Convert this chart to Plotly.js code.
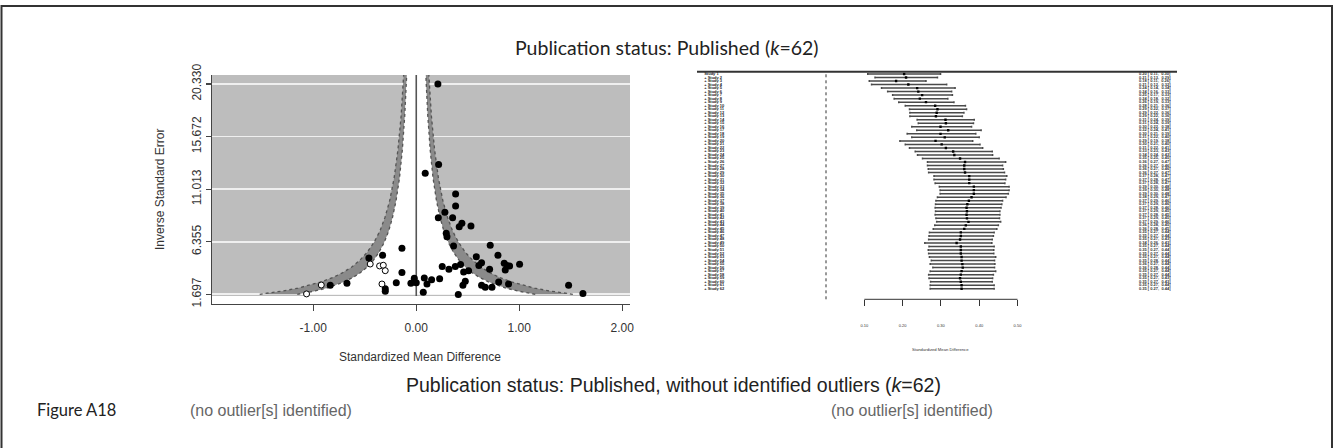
<!DOCTYPE html>
<html>
<head>
<meta charset="utf-8">
<script src="https://cdn.plot.ly/plotly-3.0.1.min.js"></script>
<style>
html,body{margin:0;padding:0;background:#fff;}
#chart{width:1338px;height:448px;}
</style>
</head>
<body>
<div id="chart"></div>
<script>
// ---------- Funnel plot data ----------
const studyEffect = [0.21, 0.217, 0.087, 0.382, 0.382, 0.278, 0.353, 0.214, 0.443, 0.417,
  0.531, 0.291, 0.298, 0.362, 0.718, -0.139, 0.583, 0.793, -0.327, -0.46,
  0.634, 0.608, 0.854, 0.88, 0.906, 1.003, 0.864, 0.252, 0.317, 0.379,
  0.43, 0.46, 0.508, 0.712, -0.139, -0.019, 0.078, 0.149, 0.227, 0.476,
  0.8, -0.194, -0.052, 0.0, 0.104, 0.453, 0.634, 0.67, 0.735, 0.896,
  1.479, 0.068, 0.408, 1.618, -0.301, -0.301, -0.673, -0.835];
const studyInvSE = [20.33, 13.19, 12.42, 10.59, 9.52, 8.96, 8.49, 8.49, 7.99, 7.69,
  7.75, 7.1, 6.8, 5.98, 6.04, 5.77, 5.03, 5.15, 5.15, 4.92,
  4.5, 4.24, 4.44, 4.24, 4.21, 4.35, 3.85, 4.15, 3.91, 4.15,
  4.33, 3.68, 3.79, 3.91, 3.62, 3.11, 3.14, 2.99, 3.08, 2.85,
  2.79, 2.73, 2.67, 2.73, 2.61, 2.49, 2.49, 2.32, 2.32, 2.61,
  2.49, 1.87, 1.67, 1.76, 2.2, 1.96, 2.67, 2.49];
const filledEffect = [-0.447, -0.356, -0.32, -0.301, -0.922, -1.065, -0.333];
const filledInvSE  = [4.38, 4.21, 4.27, 3.79, 2.52, 1.73, 2.61];

// funnel contour edges: inverse SE and half-widths
const funnelY = [1.697, 1.85, 2.0, 2.25, 2.5, 2.8, 3.2, 3.6, 4.1, 4.7, 5.4, 6.3, 7.3, 8.5, 10, 12, 14.5, 17.5, 21.2];
const innerHalf = [1.155, 1.059, 0.98, 0.871, 0.784, 0.70, 0.6125, 0.544, 0.478, 0.417, 0.363, 0.311, 0.268, 0.231, 0.196, 0.163, 0.135, 0.112, 0.0925];
const outerHalf = [1.52, 1.395, 1.29, 1.147, 1.032, 0.921, 0.806, 0.717, 0.629, 0.549, 0.478, 0.41, 0.353, 0.304, 0.258, 0.215, 0.178, 0.147, 0.122];

const funnelYTicks = [1.697, 6.355, 11.013, 15.672, 20.330];
const funnelYTickText = ['1.697', '6.355', '11.013', '15.672', '20.330'];
const funnelXTicks = [-1, 0, 1, 2];
const funnelXTickText = ['-1.00', '0.00', '1.00', '2.00'];

// ---------- Cumulative forest plot data ----------
const cumEst = [0.204, 0.209, 0.183, 0.215, 0.238, 0.241, 0.251, 0.245, 0.261, 0.285,
  0.291, 0.289, 0.287, 0.312, 0.313, 0.299, 0.319, 0.299, 0.310, 0.286,
  0.302, 0.313, 0.332, 0.335, 0.350, 0.363, 0.361, 0.361, 0.363, 0.374,
  0.374, 0.374, 0.386, 0.386, 0.386, 0.380, 0.373, 0.369, 0.367, 0.368,
  0.367, 0.368, 0.372, 0.365, 0.361, 0.352, 0.352, 0.350, 0.341, 0.352,
  0.352, 0.352, 0.354, 0.354, 0.356, 0.357, 0.354, 0.352, 0.350, 0.352,
  0.354, 0.354];
const cumLo = [0.109, 0.128, 0.113, 0.119, 0.145, 0.161, 0.174, 0.178, 0.190, 0.207,
  0.218, 0.219, 0.219, 0.238, 0.241, 0.224, 0.237, 0.212, 0.224, 0.193,
  0.207, 0.218, 0.233, 0.239, 0.252, 0.265, 0.265, 0.267, 0.268, 0.282,
  0.282, 0.285, 0.296, 0.298, 0.298, 0.291, 0.287, 0.286, 0.285, 0.286,
  0.285, 0.287, 0.289, 0.284, 0.280, 0.270, 0.269, 0.268, 0.258, 0.269,
  0.267, 0.268, 0.270, 0.275, 0.272, 0.279, 0.272, 0.268, 0.269, 0.273,
  0.272, 0.272];
const cumHi = [0.299, 0.291, 0.261, 0.315, 0.337, 0.328, 0.330, 0.318, 0.334, 0.364,
  0.367, 0.360, 0.356, 0.387, 0.385, 0.380, 0.405, 0.391, 0.400, 0.383,
  0.402, 0.409, 0.434, 0.435, 0.452, 0.469, 0.461, 0.463, 0.466, 0.472,
  0.469, 0.467, 0.478, 0.478, 0.476, 0.470, 0.461, 0.459, 0.457, 0.454,
  0.454, 0.453, 0.456, 0.450, 0.446, 0.439, 0.437, 0.434, 0.433, 0.439,
  0.438, 0.438, 0.443, 0.440, 0.441, 0.440, 0.443, 0.437, 0.435, 0.434,
  0.439, 0.439];
const forestXTicks = [0.1, 0.2, 0.3, 0.4, 0.5];
const forestXTickText = ['0.10', '0.20', '0.30', '0.40', '0.50'];

// ---------- build traces ----------
const n = funnelY.length;
const whiteX = [], whiteY = [];
for (let i = n - 1; i >= 0; i--) { whiteX.push(-innerHalf[i]); whiteY.push(funnelY[i]); }
for (let i = 0; i < n; i++) { whiteX.push(innerHalf[i]); whiteY.push(funnelY[i]); }

function band(sign) {
  const bx = [], by = [];
  for (let i = 0; i < n; i++) { bx.push(sign * outerHalf[i]); by.push(funnelY[i]); }
  for (let i = n - 1; i >= 0; i--) { bx.push(sign * innerHalf[i]); by.push(funnelY[i]); }
  return {x: bx, y: by};
}
const lb = band(-1), rb = band(1);

const traces = [];
traces.push({type:'scatter', x: whiteX, y: whiteY, fill:'toself', fillcolor:'#ffffff',
  line:{width:0, color:'rgba(0,0,0,0)'}, mode:'lines', hoverinfo:'skip', showlegend:false});
traces.push({type:'scatter', x: lb.x, y: lb.y, fill:'toself', fillcolor:'#8a8a8a',
  line:{width:0, color:'rgba(0,0,0,0)'}, mode:'lines', hoverinfo:'skip', showlegend:false});
traces.push({type:'scatter', x: rb.x, y: rb.y, fill:'toself', fillcolor:'#8a8a8a',
  line:{width:0, color:'rgba(0,0,0,0)'}, mode:'lines', hoverinfo:'skip', showlegend:false});
[innerHalf, outerHalf].forEach(arr => {
  [-1, 1].forEach(s => {
    traces.push({type:'scatter', mode:'lines', x: arr.map(v => s * v), y: funnelY,
      line:{color:'#555', width:1.3, dash:'dot'}, hoverinfo:'skip', showlegend:false});
  });
});
// vertical reference line at 0
traces.push({type:'scatter', mode:'lines', x:[0, 0], y:[1.546, 21.127],
  line:{color:'#555', width:1.6}, hoverinfo:'skip', showlegend:false});
// studies
traces.push({type:'scatter', mode:'markers', x: studyEffect, y: studyInvSE,
  marker:{color:'#000', size:7, line:{width:0}}, showlegend:false});
// imputed (open)
traces.push({type:'scatter', mode:'markers', x: filledEffect, y: filledInvSE,
  marker:{color:'#fff', size:6, line:{width:1, color:'#000'}}, showlegend:false});

// forest
const rows = cumEst.map((_, i) => i + 1);
const labels = rows.map(r => r === 1 ? 'Study 1' : '+ Study ' + r);
const estText = cumEst.map((e, i) => e.toFixed(2) + ' [ ' + cumLo[i].toFixed(2) + ',  ' + cumHi[i].toFixed(2) + ']');
traces.push({type:'scatter', mode:'markers', xaxis:'x2', yaxis:'y2', x: cumEst, y: rows,
  error_x:{type:'data', symmetric:false, array: cumHi.map((h, i) => h - cumEst[i]),
    arrayminus: cumEst.map((e, i) => e - cumLo[i]), color:'#4a4a4a', thickness:1.5, width:1},
  marker:{symbol:'square', size:2.4, color:'#000'}, showlegend:false});
traces.push({type:'scatter', mode:'text', xaxis:'x2', yaxis:'y2', x: rows.map(() => -0.318), y: rows,
  text: labels, textposition:'middle right', textfont:{size:4, color:'#222', family:'Liberation Sans', weight:'bold'},
  hoverinfo:'skip', showlegend:false});
traces.push({type:'scatter', mode:'text', xaxis:'x2', yaxis:'y2', x: rows.map(() => 0.817), y: rows,
  text: estText, textposition:'middle right', textfont:{size:4, color:'#333', family:'Liberation Sans', weight:'bold'},
  hoverinfo:'skip', showlegend:false});

const W = 1338, H = 448;
const px = v => v / W, py = v => 1 - v / H;
const fontA = 'Liberation Sans, Arial, sans-serif';
const fontG = 'Lato, Open Sans, sans-serif';

const layout = {
  width: W, height: H,
  margin: {l:0, r:0, t:0, b:0},
  paper_bgcolor:'#fff', plot_bgcolor:'rgba(0,0,0,0)',
  showlegend:false,
  xaxis: {domain:[px(212), px(630)], range:[-1.983, 2.075], tickvals: funnelXTicks, ticktext: funnelXTickText,
    ticks:'outside', ticklen:6, tickwidth:1.2, tickcolor:'#444', showline:true, linecolor:'#444', linewidth:1.4,
    showgrid:false, zeroline:false, tickfont:{family:fontA, size:12, color:'#333'}, ticklabelstandoff:6, anchor:'y', fixedrange:true},
  yaxis: {domain:[py(304), py(75)], range:[0.838, 21.127], tickvals: funnelYTicks, ticktext: funnelYTickText,
    tickangle:-90, ticks:'outside', ticklen:5, tickwidth:1.2, tickcolor:'#444', showline:true, linecolor:'#444', linewidth:1.4,
    showgrid:true, gridcolor:'#efefef', gridwidth:1.6, zeroline:false, tickfont:{family:fontA, size:12, color:'#333'}, anchor:'x', fixedrange:true},
  xaxis2: {domain:[px(697), px(1177)], range:[-0.3368, 0.9164], tickvals: forestXTicks, ticktext: forestXTickText,
    ticks:'outside', ticklen:6, tickwidth:1, tickcolor:'#333', showline:false, showgrid:false, zeroline:false,
    tickfont:{family:fontA, size:4, color:'#333'}, ticklabelstandoff:16, anchor:'y2', fixedrange:true},
  yaxis2: {domain:[py(299.3), py(71.7)], range:[65.0, 0.347], visible:false, anchor:'x2', fixedrange:true},
  shapes: [
    {type:'rect', xref:'x domain', yref:'y', x0:0, x1:1, y0:1.546, y1:21.127, fillcolor:'#bdbdbd', line:{width:0}, layer:'below'},
    {type:'line', xref:'x2 domain', yref:'y2 domain', x0:0, x1:1, y0:1, y1:1, line:{color:'#333', width:2}},
    {type:'line', xref:'x2', yref:'y2 domain', x0:0.1, x1:0.5, y0:0, y1:0, line:{color:'#333', width:1}},
    {type:'line', xref:'x2', yref:'y2 domain', x0:0, x1:0, y0:0, y1:1, line:{color:'#333', width:1, dash:'dot'}},
    {type:'rect', xref:'paper', yref:'paper', x0:px(1.5), x1:px(1332), y0:-0.05, y1:py(6), line:{color:'#333', width:2}, fillcolor:'rgba(0,0,0,0)'}
  ],
  annotations: [
    {text:'Publication status: Published (<i>k</i>=62)', xref:'paper', yref:'paper', x:px(667), y:py(48), xanchor:'center', yanchor:'middle',
      showarrow:false, font:{family:fontG, size:19.5, color:'#222'}},
    {text:'Inverse Standard Error', xref:'paper', yref:'paper', x:px(160), y:py(190), textangle:-90, xanchor:'center', yanchor:'middle',
      showarrow:false, font:{family:fontA, size:12, color:'#333'}},
    {text:'Standardized Mean Difference', xref:'paper', yref:'paper', x:px(420), y:py(357), xanchor:'center', yanchor:'middle',
      showarrow:false, font:{family:fontA, size:12, color:'#333'}},
    {text:'Standardized Mean Difference', xref:'x2', yref:'paper', x:0.3, y:py(349), xanchor:'center', yanchor:'middle',
      showarrow:false, font:{family:fontA, size:4.2, color:'#333'}},
    {text:'Publication status: Published, without identified outliers (<i>k</i>=62)', xref:'paper', yref:'paper', x:px(673), y:py(385),
      xanchor:'center', yanchor:'middle', showarrow:false, font:{family:fontA, size:19.5, color:'#222'}},
    {text:'Figure A18', xref:'paper', yref:'paper', x:px(35), y:py(410), xanchor:'left', yanchor:'middle',
      showarrow:false, font:{family:fontG, size:16.5, color:'#222'}},
    {text:'(no outlier[s] identified)', xref:'paper', yref:'paper', x:px(188), y:py(410), xanchor:'left', yanchor:'middle',
      showarrow:false, font:{family:fontA, size:16, color:'#666'}},
    {text:'(no outlier[s] identified)', xref:'paper', yref:'paper', x:px(829), y:py(410), xanchor:'left', yanchor:'middle',
      showarrow:false, font:{family:fontA, size:16, color:'#666'}}
  ]
};

Plotly.newPlot('chart', traces, layout, {staticPlot:true, displayModeBar:false});
</script>
</body>
</html>
